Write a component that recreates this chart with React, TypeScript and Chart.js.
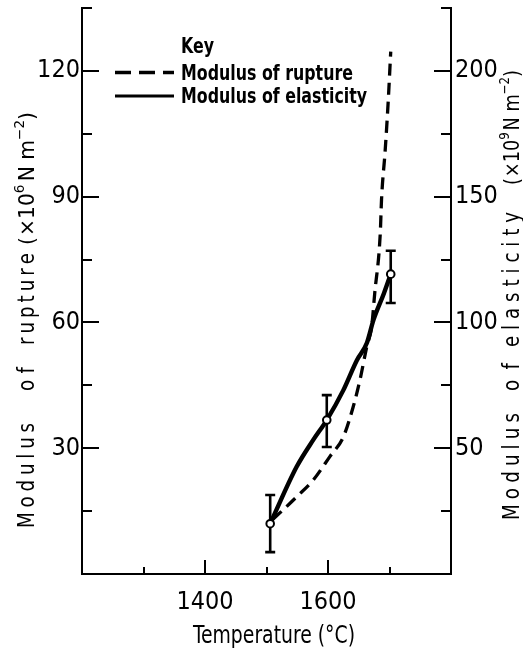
import { useEffect, useRef } from 'react';
import { Chart, registerables } from 'chart.js';

Chart.register(...registerables);

// ---- tick values ----
const temperatureTicksMajor = [1400, 1600];
const temperatureTicksMinor = [1300, 1500, 1700];
const ruptureTicksMajor = [30, 60, 90, 120];
const ruptureTicksMinor = [15, 45, 75, 105, 135];
const elasticityTicksMajor = [50, 100, 150, 200];
const elasticityTicksMinor = [25, 75, 125, 175, 225];

// ---- Modulus of rupture (x10^6 N m^-2), dashed curve, left axis ----
const ruptureTemps = [1510, 1527, 1549, 1576, 1603, 1625, 1641, 1652, 1663, 1671, 1676, 1685, 1687, 1693, 1698, 1702];
const ruptureValues = [13, 15.3, 18.4, 22.4, 28, 32.7, 39.9, 46.3, 54.2, 59, 67, 81.3, 89.2, 101.1, 113, 124.6];

// ---- Modulus of elasticity (x10^9 N m^-2), solid curve, right axis ----
const elasticityCurveTemps = [1506, 1549, 1576, 1598, 1625, 1647, 1663, 1674, 1691, 1702];
const elasticityCurveValues = [20, 42.6, 53.3, 61.2, 73.1, 85, 91.7, 101, 111.6, 119.2];

// measured points with error bars
const elasticityTemps = [1506, 1598, 1702];
const elasticityValues = [20, 61.2, 119.2];
const elasticityLow = [8.7, 50.5, 107.7];
const elasticityHigh = [31.4, 71.1, 128.5];

const COND = '"DejaVu Sans Condensed", "DejaVu Sans", sans-serif';

type Run = { t: string; size: number; dy?: number; gap?: number };

function fillScaled(ctx: CanvasRenderingContext2D, text: string, x: number, y: number, sx: number, align: 'left' | 'center' = 'left') {
  const w = ctx.measureText(text).width * sx;
  const x0 = align === 'center' ? x - w / 2 : x;
  ctx.save();
  ctx.translate(x0, y);
  ctx.scale(sx, 1);
  ctx.textAlign = 'left';
  ctx.fillText(text, 0, 0);
  ctx.restore();
  return w;
}

function fitWord(ctx: CanvasRenderingContext2D, text: string, u0: number, length: number, maxSx: number) {
  const chars = [...text];
  const raw = chars.map((c) => ctx.measureText(c).width);
  const nat = raw.reduce((a, b) => a + b, 0);
  const sx = Math.min(maxSx, length / nat);
  const extra = chars.length > 1 ? (length - nat * sx) / (chars.length - 1) : 0;
  let u = u0;
  chars.forEach((c, i) => {
    ctx.save();
    ctx.translate(u, 0);
    ctx.scale(sx, 1);
    ctx.fillText(c, 0, 0);
    ctx.restore();
    u += raw[i] * sx + extra;
  });
}

function fitRuns(ctx: CanvasRenderingContext2D, runs: Run[], u0: number, length: number) {
  let nat = 0;
  runs.forEach((r) => {
    ctx.font = `${r.size}px ${COND}`;
    nat += ctx.measureText(r.t).width + (r.gap ?? 0);
  });
  const sx = length / nat;
  let u = u0;
  runs.forEach((r) => {
    ctx.font = `${r.size}px ${COND}`;
    ctx.save();
    ctx.translate(u, r.dy ?? 0);
    ctx.scale(sx, 1);
    ctx.fillText(r.t, 0, 0);
    ctx.restore();
    u += (ctx.measureText(r.t).width + (r.gap ?? 0)) * sx;
  });
}

type Word = { t: string; bottom: number; top: number };

function drawVerticalTitle(ctx: CanvasRenderingContext2D, baseX: number, words: Word[], units: Run[], ub: number, ut: number) {
  ctx.save();
  ctx.translate(baseX, 0);
  ctx.rotate(-Math.PI / 2);
  ctx.textAlign = 'left';
  ctx.textBaseline = 'alphabetic';
  words.forEach((w) => {
    ctx.font = `23px ${COND}`;
    fitWord(ctx, w.t, -w.bottom, w.bottom - w.top, 0.88);
  });
  fitRuns(ctx, units, -ub, ub - ut);
  ctx.restore();
}

const decorPlugin = {
  id: 'decor',
  beforeDatasetsDraw(chart: any) {
    const ctx = chart.ctx as CanvasRenderingContext2D;
    const xs = chart.scales.x;
    const ys = chart.scales.y2;
    ctx.save();
    ctx.strokeStyle = '#000';
    ctx.lineWidth = 2.6;
    elasticityTemps.forEach((t, i) => {
      const px = xs.getPixelForValue(t);
      const lo = ys.getPixelForValue(elasticityLow[i]);
      const hi = ys.getPixelForValue(elasticityHigh[i]);
      ctx.beginPath();
      ctx.moveTo(px, lo);
      ctx.lineTo(px, hi);
      ctx.moveTo(px - 5, lo);
      ctx.lineTo(px + 5, lo);
      ctx.moveTo(px - 5, hi);
      ctx.lineTo(px + 5, hi);
      ctx.stroke();
    });
    ctx.restore();
  },
  afterDraw(chart: any) {
    const ctx = chart.ctx as CanvasRenderingContext2D;
    ctx.save();
    ctx.fillStyle = '#000';
    ctx.strokeStyle = '#000';
    ctx.textBaseline = 'alphabetic';

    // key
    ctx.font = `bold 21px ${COND}`;
    const legendSx = 172 / ctx.measureText('Modulus of rupture').width;
    fillScaled(ctx, 'Key', 181, 53, legendSx);
    fillScaled(ctx, 'Modulus of rupture', 181, 80, legendSx);
    fillScaled(ctx, 'Modulus of elasticity', 181, 103, legendSx);

    ctx.lineWidth = 3.5;
    ctx.setLineDash([16, 8]);
    ctx.beginPath();
    ctx.moveTo(115, 72.5);
    ctx.lineTo(174, 72.5);
    ctx.stroke();
    ctx.setLineDash([]);
    ctx.lineWidth = 3;
    ctx.beginPath();
    ctx.moveTo(115, 96);
    ctx.lineTo(174, 96);
    ctx.stroke();

    // x title
    ctx.font = `25px ${COND}`;
    const tSx = 162 / ctx.measureText('Temperature (°C)').width;
    fillScaled(ctx, 'Temperature (°C)', 274, 643, tSx, 'center');

    // left title
    drawVerticalTitle(
      ctx,
      34,
      [
        { t: 'Modulus', bottom: 528, top: 423 },
        { t: 'of', bottom: 391, top: 367 },
        { t: 'rupture', bottom: 345, top: 253 },
      ],
      [
        { t: '(', size: 21, gap: 1 },
        { t: '×10', size: 21 },
        { t: '6', size: 14, dy: -10, gap: 3 },
        { t: 'N m', size: 21 },
        { t: '−2', size: 14, dy: -10 },
        { t: ')', size: 21 },
      ],
      245,
      112
    );

    // right title
    drawVerticalTitle(
      ctx,
      519,
      [
        { t: 'Modulus', bottom: 520, top: 413 },
        { t: 'of', bottom: 391, top: 363 },
        { t: 'elasticity', bottom: 347, top: 212 },
      ],
      [
        { t: '(', size: 21, gap: 1 },
        { t: '×10', size: 21 },
        { t: '9', size: 14, dy: -10, gap: 2 },
        { t: 'N m', size: 21 },
        { t: '−2', size: 14, dy: -10 },
        { t: ')', size: 21 },
      ],
      185,
      70
    );

    ctx.restore();
  },
};

function fixedBox(size: number, horizontal: boolean) {
  return (s: any) => {
    if (horizontal) s.height = size;
    else s.width = size;
    s.paddingTop = 0;
    s.paddingBottom = 0;
    s.paddingLeft = 0;
    s.paddingRight = 0;
  };
}

function ticksFrom(values: number[]) {
  return (s: any) => {
    s.ticks = values.map((v) => ({ value: v }));
  };
}

const plainLabel = (v: any) => String(v);

export default function App() {
  const ref = useRef<HTMLCanvasElement | null>(null);

  useEffect(() => {
    if (!ref.current) return;
    const tickFont = { family: COND, size: 25 };
    const axisBorder = { display: true, color: '#000', width: 2 };
    const chart = new Chart(ref.current, {
      type: 'line',
      data: {
        datasets: [
          {
            label: 'Modulus of elasticity (measured)',
            data: elasticityTemps.map((t, i) => ({ x: t, y: elasticityValues[i] })),
            xAxisID: 'x',
            yAxisID: 'y2',
            showLine: false,
            pointRadius: 3.8,
            pointBackgroundColor: '#fff',
            pointBorderColor: '#000',
            pointBorderWidth: 2,
            order: 0,
          },
          {
            label: 'Modulus of elasticity',
            data: elasticityCurveTemps.map((t, i) => ({ x: t, y: elasticityCurveValues[i] })),
            xAxisID: 'x',
            yAxisID: 'y2',
            borderColor: '#000',
            borderWidth: 4.4,
            pointRadius: 0,
            cubicInterpolationMode: 'monotone',
            fill: false,
            order: 1,
          },
          {
            label: 'Modulus of rupture',
            data: ruptureTemps.map((t, i) => ({ x: t, y: ruptureValues[i] })),
            xAxisID: 'x',
            yAxisID: 'y',
            borderColor: '#000',
            borderWidth: 3.3,
            borderDash: [12, 7],
            pointRadius: 0,
            cubicInterpolationMode: 'monotone',
            fill: false,
            order: 2,
          },
        ],
      },
      options: {
        animation: false,
        responsive: true,
        maintainAspectRatio: false,
        layout: { padding: { top: 8, left: 0, right: 0, bottom: 0 } },
        plugins: { legend: { display: false }, tooltip: { enabled: false } },
        scales: {
          x: {
            type: 'linear',
            position: 'bottom',
            min: 1200,
            max: 1800,
            weight: 1,
            afterBuildTicks: ticksFrom(temperatureTicksMajor),
            afterFit: fixedBox(77, true),
            grid: { drawOnChartArea: false, tickLength: -14, color: '#000', lineWidth: 2 },
            border: axisBorder,
            ticks: { padding: 27, font: tickFont, color: '#000', callback: plainLabel },
          },
          xMinor: {
            type: 'linear',
            position: 'bottom',
            min: 1200,
            max: 1800,
            weight: 0,
            afterBuildTicks: ticksFrom(temperatureTicksMinor),
            afterFit: fixedBox(0, true),
            grid: { drawOnChartArea: false, tickLength: -7, color: '#000', lineWidth: 2 },
            border: { display: false },
            ticks: { display: false },
          },
          y: {
            type: 'linear',
            position: 'left',
            min: 0,
            max: 135,
            weight: 1,
            afterBuildTicks: ticksFrom(ruptureTicksMajor),
            afterFit: fixedBox(82, false),
            grid: { drawOnChartArea: false, tickLength: -17, color: '#000', lineWidth: 2 },
            border: axisBorder,
            ticks: { padding: 19, font: tickFont, color: '#000', callback: plainLabel },
          },
          yMinor: {
            type: 'linear',
            position: 'left',
            min: 0,
            max: 135,
            weight: 0,
            afterBuildTicks: ticksFrom(ruptureTicksMinor),
            afterFit: fixedBox(0, false),
            grid: { drawOnChartArea: false, tickLength: -10, color: '#000', lineWidth: 2 },
            border: { display: false },
            ticks: { display: false },
          },
          y2: {
            type: 'linear',
            position: 'right',
            min: 0,
            max: 225,
            weight: 1,
            afterBuildTicks: ticksFrom(elasticityTicksMajor),
            afterFit: fixedBox(72, false),
            grid: { drawOnChartArea: false, tickLength: -17, color: '#000', lineWidth: 2 },
            border: axisBorder,
            ticks: { padding: 21, font: tickFont, color: '#000', callback: plainLabel },
          },
          y2Minor: {
            type: 'linear',
            position: 'right',
            min: 0,
            max: 225,
            weight: 0,
            afterBuildTicks: ticksFrom(elasticityTicksMinor),
            afterFit: fixedBox(0, false),
            grid: { drawOnChartArea: false, tickLength: -10, color: '#000', lineWidth: 2 },
            border: { display: false },
            ticks: { display: false },
          },
        },
      } as any,
      plugins: [decorPlugin],
    });
    return () => chart.destroy();
  }, []);

  return (
    <div style={{ position: 'absolute', left: 0, top: 0, width: 523, height: 651, background: '#fff' }}>
      <canvas ref={ref} />
    </div>
  );
}
